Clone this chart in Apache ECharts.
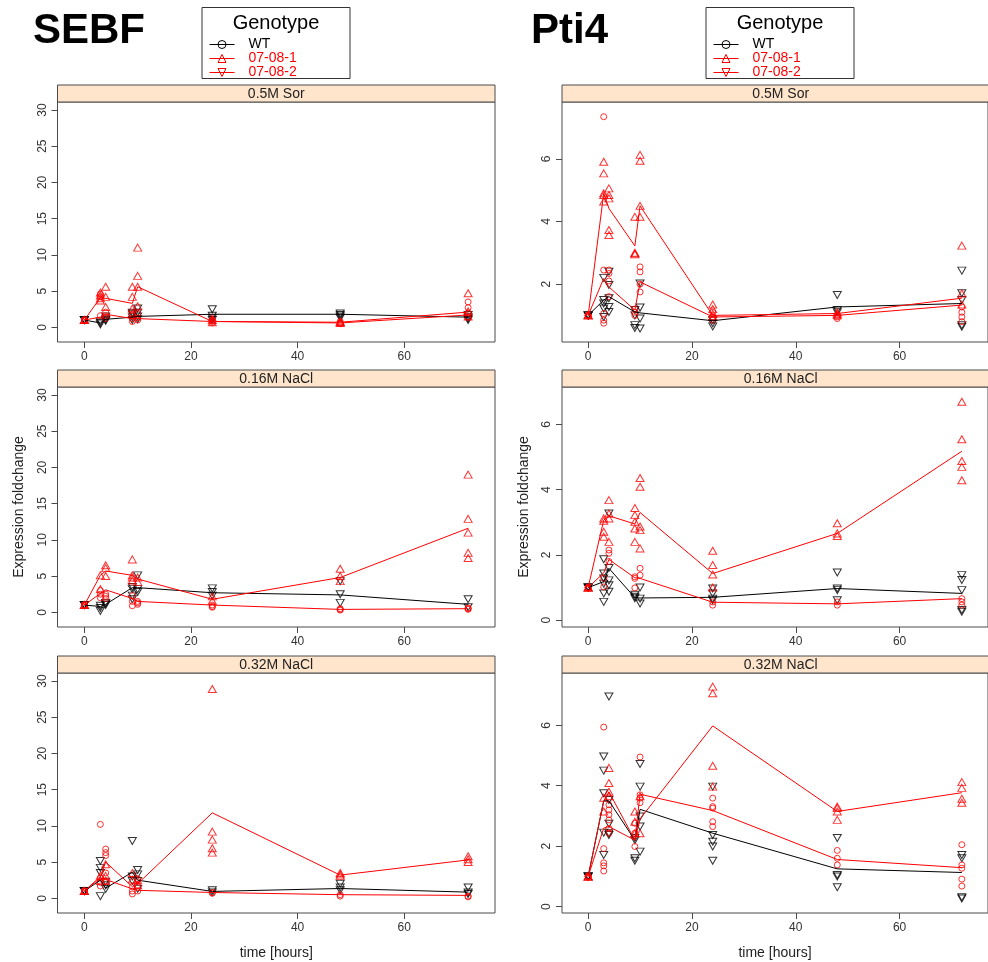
<!DOCTYPE html>
<html><head><meta charset="utf-8">
<script src="https://cdn.jsdelivr.net/npm/echarts@6/dist/echarts.min.js"></script>
<style>html,body{margin:0;padding:0;background:#fff;} #c{width:988px;height:962px;}</style>
</head><body><div id="c"></div>
<script>
// ---------- data ----------
const times = [0, 3, 4, 9, 10, 24, 48, 72];
const xTicks = [0, 20, 40, 60];
const leftYTicks = [0, 5, 10, 15, 20, 25, 30];
const rightYTicks = [0, 2, 4, 6];
const genes = ['SEBF', 'Pti4'];
const conditions = ['0.5M Sor', '0.16M NaCl', '0.32M NaCl'];
const genotypes = ['WT', '07-08-1', '07-08-2'];

// SEBF, 0.5M Sor : replicate points per time, and mean line
const sebfSorWT = [[1,1,1],[0.4,0.6,0.8],[0.9,1.2,1.5,1.0],[1.0,1.4,1.8,2.0],[1.1,1.5,2.0,2.6],[2.5,1.6,1.3,1.0],[1.9,1.7,1.5,1.3],[1.7,1.4,1.2,1.0]];
const sebfSor1  = [[1,1,1],[4.8,4.4,4.0,3.7],[5.6,4.2,2.8],[5.6,4.2,2.6,1.9],[11.0,7.1,5.6,2.9],[1.3,1.0,0.7],[0.8,0.7,0.6],[4.7,2.2,1.5]];
const sebfSor2  = [[1,1,1],[4.6,4.2,1.6],[2.1,1.6,1.2],[1.6,1.2,0.8],[1.9,1.3,1.0],[1.0,0.8,0.6],[0.8,0.6,0.5],[3.5,2.7,2.0,1.4]];
const sebfSorWTm = [1, 0.6, 1.1, 1.4, 1.5, 1.8, 1.8, 1.4];
const sebfSor1m  = [1, 4.1, 4.0, 3.3, 5.6, 0.8, 0.7, 2.1];
const sebfSor2m  = [1, 1.4, 1.8, 1.2, 1.2, 0.8, 0.6, 1.7];

// SEBF, 0.16M NaCl
const sebfN16WT = [[1,1,1],[0.9,0.6,0.2],[1.3,1.0,1.2],[3.5,3.2,2.3,1.8],[5.1,3.2,2.8],[3.3,2.8,2.3],[4.3,2.5,1.3],[1.8,0.7]];
const sebfN161  = [[1,1,1],[5.1,3.2],[6.5,6.1,5.0],[7.3,5.1,4.8,4.4],[4.8,4.2],[2.2,1.6],[6.0,5.0,4.3],[19.0,12.9,11.0,8.2,7.5]];
const sebfN162  = [[1,1,1],[3.0,2.5,2.0],[2.5,2.2,1.9],[2.3,1.5,0.9],[1.5,1.3,1.1],[1.0,0.8,0.7],[0.5,0.4,0.3],[0.6,0.5,0.4]];
const sebfN16WTm = [1, 0.8, 1.1, 3.4, 3.4, 2.7, 2.4, 1.1];
const sebfN161m  = [1, 5.1, 5.7, 5.1, 4.6, 1.8, 4.8, 11.6];
const sebfN162m  = [1, 2.6, 3.1, 1.9, 1.5, 1.0, 0.4, 0.5];

// SEBF, 0.32M NaCl
const sebfN32WT = [[1,1,1],[5.15,4.2,3.5,0.3],[2.3,1.8,1.3],[7.9,3.0,2.4],[3.9,3.3,2.4,1.3],[1.1,0.8],[2.0,1.5,1.1],[1.5,0.8,0.6]];
const sebfN321  = [[1,1,1],[3.1,2.4],[4.7,3.1,2.4],[3.5,2.6],[2.5,1.8],[28.9,9.2,8.1,6.9,6.3],[3.5,3.3,3.1],[5.8,5.4,5.0]];
const sebfN322  = [[1,1,1],[10.2,2.8,2.2,1.7],[6.8,6.3,5.9,3.5,2.4],[1.6,1.0,0.6],[2.7,1.8,1.0],[0.8,0.7],[0.5,0.3],[0.3,0.2]];
const sebfN32WTm = [1, 2.5, 1.4, 3.6, 2.5, 0.95, 1.35, 0.85];
const sebfN321m  = [1, 3.0, 5.0, 1.6, 2.0, 11.8, 3.2, 5.3];
const sebfN322m  = [1, 2.8, 2.6, 1.3, 1.1, 0.8, 0.5, 0.4];

// Pti4, 0.5M Sor
const pti4SorWT = [[1,1,1],[2.2,1.49,1.38,1.22,0.95],[2.4,1.97,1.55,1.27,1.11],[1.17,1.0,0.69,0.6],[2.02,1.25,0.9,0.58],[0.85,0.75,0.65],[1.65,1.17,1.1],[2.43,1.71,1.49,0.69,0.64]];
const pti4Sor1  = [[1,1,1],[5.91,5.54,4.9,4.85,4.64],[5.06,4.85,4.74,3.73,3.57],[4.15,2.98,2.95,3.0],[6.13,5.94,4.5,4.15],[1.35,1.2,1.05,0.95],[1.1,1.05,1.0],[3.23,1.7,1.35]];
const pti4Sor2  = [[1,1,1],[7.35,2.45,1.06,0.85,0.75],[2.45,2.34,2.1,1.6],[1.2,1.1,1.0],[2.55,2.39,2.0,1.75],[1.1,0.95,0.85],[1.0,0.95,0.9],[1.27,1.1,0.95,0.8]];
const pti4SorWTm = [1, 1.49, 1.6, 1.11, 1.08, 0.83, 1.27, 1.38];
const pti4Sor1m  = [1, 4.9, 4.42, 3.22, 4.5, 1.0, 1.06, 1.55];
const pti4Sor2m  = [1, 2.18, 1.91, 1.17, 2.07, 0.95, 1.0, 1.33];

// Pti4, 0.16M NaCl
const pti4N16WT = [[1,1,1],[1.87,1.43,1.28,1.12,0.82,0.56],[3.27,1.6,1.22,1.07,0.87],[0.78,0.72,0.67],[1.0,0.66,0.51],[0.97,0.82,0.66,0.61],[1.46,0.97,0.92,0.61],[1.38,1.23,0.92,0.31,0.26]];
const pti4N161  = [[1,1,1],[3.12,2.71,2.56,3.05],[3.68,3.27,3.12,2.4],[3.44,3.22,3.02,2.81,2.4],[4.36,4.09,2.87,2.76,2.2],[2.13,1.69,1.4,1.0],[2.97,2.66,2.58],[6.7,5.55,4.88,4.7,4.29]];
const pti4N162  = [[1,1,1],[1.28,1.02],[2.15,2.05,1.8],[1.33,1.28,0.99],[1.59,1.38],[0.56,0.46],[0.56,0.46],[0.66,0.56,0.46]];
const pti4N16WTm = [1, 1.18, 1.59, 0.69, 0.68, 0.7, 0.97, 0.82];
const pti4N161m  = [1, 3.07, 3.2, 2.95, 3.3, 1.43, 2.66, 5.18];
const pti4N162m  = [1, 1.45, 1.86, 1.3, 1.28, 0.55, 0.5, 0.66];

// Pti4, 0.32M NaCl
const pti4N32WT = [[1,1,1],[4.97,4.5,3.75,2.45,1.71],[6.95,3.53,2.74,2.43,2.37],[2.27,2.2,1.6,1.52],[4.72,3.97,2.98,2.65,1.82],[3.97,2.37,2.15,1.99,1.52],[2.27,1.05,1.0,0.64],[1.71,1.6,0.31,0.27]];
const pti4N321  = [[1,1,1],[3.6,3.15],[4.59,4.09,3.8,3.65],[3.15,2.81,2.43],[3.65,2.43],[7.28,7.06,4.66,3.97],[3.31,3.26,3.15,2.87],[4.12,3.93,3.57,3.44]];
const pti4N322  = [[1,1,1],[5.94,1.92,1.45,1.35,1.18],[3.37,3.2,3.04,2.87,2.59,2.43],[2.76,2.43,1.99],[4.95,3.7,3.59,3.44],[3.59,3.31,3.26,2.81,2.65],[1.86,1.6,1.38],[2.05,1.38,1.27,0.91,0.68]];
const pti4N32WTm = [1, 3.5, 3.5, 2.2, 3.22, 2.43, 1.25, 1.13];
const pti4N321m  = [1, 3.5, 3.8, 2.2, 2.9, 5.98, 3.15, 3.77];
const pti4N322m  = [1, 2.6, 2.65, 2.2, 3.72, 3.18, 1.56, 1.29];

// ---------- layout / style ----------
const FONT = '"Liberation Sans", Arial, Helvetica, sans-serif';
const colLeft = [57.5, 562];
const colW = 437.5;
const rowTop = [102, 387, 673];
const rowH = 240;
const stripH = 17;
const RED = '#ff0000', BLACK = '#000000', FRAME = '#4a4a4a';

const panels = [
  {row:0, col:0, pts:[sebfSorWT, sebfSor1, sebfSor2], means:[sebfSorWTm, sebfSor1m, sebfSor2m], yr:[-2.03, 31.1], yt:leftYTicks},
  {row:0, col:1, pts:[pti4SorWT, pti4Sor1, pti4Sor2], means:[pti4SorWTm, pti4Sor1m, pti4Sor2m], yr:[0.15, 7.82], yt:rightYTicks},
  {row:1, col:0, pts:[sebfN16WT, sebfN161, sebfN162], means:[sebfN16WTm, sebfN161m, sebfN162m], yr:[-2.03, 31.1], yt:leftYTicks},
  {row:1, col:1, pts:[pti4N16WT, pti4N161, pti4N162], means:[pti4N16WTm, pti4N161m, pti4N162m], yr:[-0.21, 7.15], yt:rightYTicks},
  {row:2, col:0, pts:[sebfN32WT, sebfN321, sebfN322], means:[sebfN32WTm, sebfN321m, sebfN322m], yr:[-2.03, 31.1], yt:leftYTicks},
  {row:2, col:1, pts:[pti4N32WT, pti4N321, pti4N322], means:[pti4N32WTm, pti4N321m, pti4N322m], yr:[-0.21, 7.73], yt:rightYTicks}
];

const ptStyle = [
  {symbol:'triangle', rot:180, color:BLACK, size:[8,7]},
  {symbol:'triangle', rot:0, color:RED, size:[8,7]},
  {symbol:'circle', rot:0, color:RED, size:6}
];
const lineStyleG = [
  {color:BLACK, symbol:'circle', rot:0},
  {color:RED, symbol:'triangle', rot:0},
  {color:RED, symbol:'triangle', rot:180}
];

function toPts(arr){ const out=[]; arr.forEach((vals,i)=>vals.forEach(v=>out.push([times[i], v]))); return out; }
function toLine(arr){ return arr.map((v,i)=>[times[i], v]); }

const grid=[], xAxis=[], yAxis=[], series=[], graphic=[];
panels.forEach((p, gi) => {
  grid.push({left: colLeft[p.col], top: rowTop[p.row], width: colW, height: rowH,
    show: true, borderColor: FRAME, borderWidth: 1, backgroundColor: 'transparent', containLabel: false});
  xAxis.push({type:'value', gridIndex: gi, min: -5.04, max: 77.04, position:'bottom',
    axisLine:{show:false, onZero:false}, splitLine:{show:false},
    axisTick:{show:true, inside:false, length:6, customValues: xTicks, lineStyle:{color:FRAME}},
    axisLabel:{customValues: xTicks, fontSize:12, color:'#333', margin:9, fontFamily:FONT},
    name: p.row === 2 ? 'time [hours]' : '', nameLocation:'middle', nameGap:33,
    nameTextStyle:{fontSize:14, color:'#222', fontFamily:FONT}
  });
  yAxis.push({type:'value', gridIndex: gi, min: p.yr[0], max: p.yr[1], position:'left',
    axisLine:{show:false, onZero:false}, splitLine:{show:false},
    axisTick:{show:true, inside:false, length:6, customValues: p.yt, lineStyle:{color:FRAME}},
    axisLabel:{customValues: p.yt, fontSize:12, color:'#333', rotate:90, margin:9, fontFamily:FONT},
    name: p.row === 1 ? 'Expression foldchange' : '', nameLocation:'middle', nameGap:31,
    nameTextStyle:{fontSize:14, color:'#222', fontFamily:FONT}
  });
  p.pts.forEach((arr, k) => {
    const s = ptStyle[k];
    series.push({type:'scatter', name: genotypes[k] + ' replicates', xAxisIndex: gi, yAxisIndex: gi,
      data: toPts(arr), symbol: s.symbol, symbolRotate: s.rot, symbolSize: s.size, silent:true, z:2,
      itemStyle:{color:'rgba(0,0,0,0)', borderColor: s.color, borderWidth:1}});
  });
  p.means.forEach((arr, k) => {
    const s = lineStyleG[k];
    series.push({type:'line', name: genotypes[k], xAxisIndex: gi, yAxisIndex: gi,
      data: toLine(arr), showSymbol:false, symbol: s.symbol, symbolRotate: s.rot, silent:true, z:3,
      lineStyle:{color: s.color, width:1}, itemStyle:{color: s.color}});
  });
  // strip header
  const sx = colLeft[p.col], sy = rowTop[p.row] - stripH;
  graphic.push({type:'rect', shape:{x:sx, y:sy, width:colW, height:stripH}, silent:true,
    style:{fill:'#ffe5cc', stroke:FRAME, lineWidth:1}});
  graphic.push({type:'text', x: sx + colW/2, y: sy + stripH/2 + 0.5, silent:true,
    style:{text: conditions[p.row], fill:'#222', font:'14px ' + FONT, textAlign:'center', textVerticalAlign:'middle'}});
});

// gene titles and legend boxes
const titleX = [33, 531];
const legendBoxX = [202, 706];
genes.forEach((g, c) => {
  graphic.push({type:'text', x: titleX[c], y: 31, silent:true,
    style:{text:g, fill:'#000', font:'bold 42px ' + FONT, textAlign:'left', textVerticalAlign:'middle'}});
  graphic.push({type:'rect', shape:{x: legendBoxX[c], y:7.5, width:148, height:71}, silent:true,
    style:{fill:'none', stroke:'#333', lineWidth:1}});
  graphic.push({type:'text', x: legendBoxX[c] + 74, y: 23, silent:true,
    style:{text:'Genotype', fill:'#000', font:'20px ' + FONT, textAlign:'center', textVerticalAlign:'middle'}});
});

const legendData = genotypes.map((g, k) => ({
  name: g,
  textStyle:{color: lineStyleG[k].color},
  itemStyle:{color:'rgba(0,0,0,0)', borderColor: lineStyleG[k].color, borderWidth:1},
  lineStyle:{color: lineStyleG[k].color, width:1}
}));
const legend = legendBoxX.map(bx => ({
  show:true, orient:'vertical', left: bx + 7, top: 37.5, padding:0, itemGap:0,
  itemWidth:25, itemHeight:10, selectedMode:false, data: legendData,
  textStyle:{fontSize:14, fontFamily:FONT, padding:[0,0,0,9], lineHeight:14}
}));

const chart = echarts.init(document.getElementById('c'), null, {renderer:'canvas'});
chart.setOption({
  animation:false, backgroundColor:'#ffffff',
  grid, xAxis, yAxis, series, legend, graphic
});
</script>
</body></html>
